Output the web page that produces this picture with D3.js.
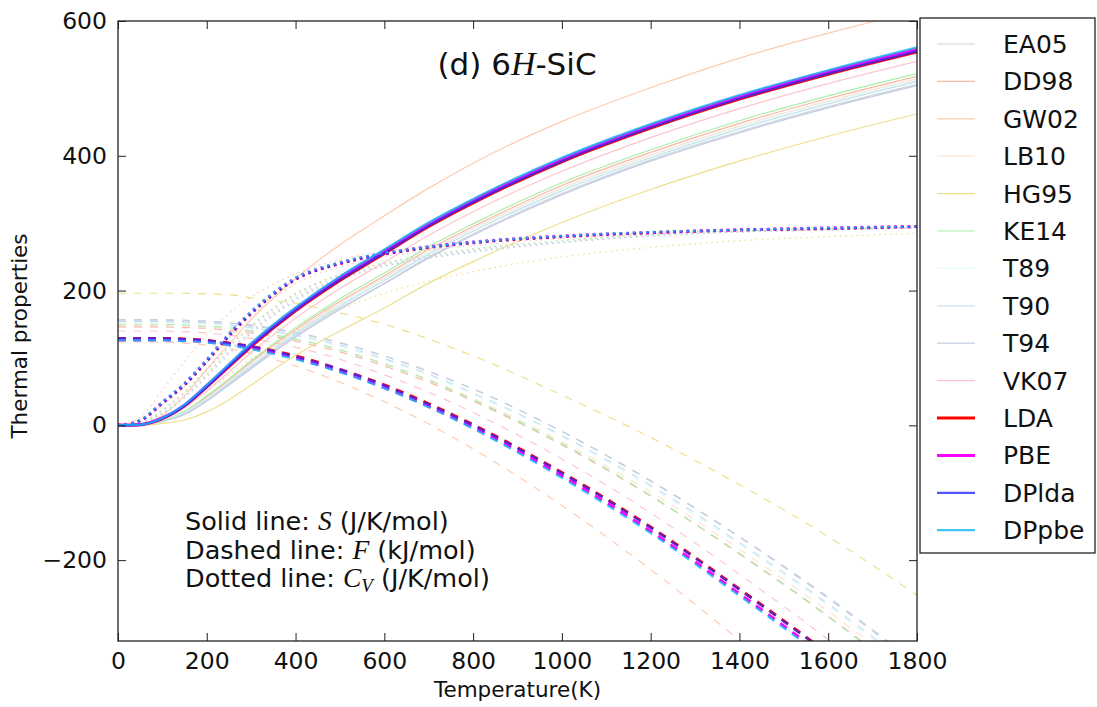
<!DOCTYPE html>
<html><head><meta charset="utf-8">
<script src="https://cdn.jsdelivr.net/npm/d3@7"></script>
<style>
body{margin:0;background:#fff;}
svg{display:block;font-family:"DejaVu Sans",sans-serif;}
</style></head><body>
<svg id="c" width="1097" height="707"></svg>
<script>
// ---------- data ----------
const temps = [0,50,100,150,200,250,300,400,500,600,700,800,1000,1200,1400,1600,1800];
const xTicks = [0,200,400,600,800,1000,1200,1400,1600,1800];
const yTicks = [-200,0,200,400,600];
const seriesNames = ["EA05","DD98","GW02","LB10","HG95","KE14","T89","T90","T94","VK07","LDA","PBE","DPlda","DPpbe"];
const seriesColors = ["#cdd3dc","#f7b6a6","#fbcdb2","#fde2d1","#efdf8c","#a9eea9","#e2fafa","#c3e2ee","#c4cde2","#fcc6cf","#ff0000","#ff00ff","#2a2aff","#10b8f0"];

// Entropy S (J/K/mol) — solid
const EA05_S = [0,1,6,17,37,61,86,133,174,211,250,284,344,394,436,473,506];
const DD98_S = [0,1,7,20,42,67,94,142,184,222,261,295,356,405,448,485,518];
const GW02_S = [0,2,15,44,83,121,157,218,268,311,352,389,451,501,545,582,615];
const LB10_S = [0,1,7,19,40,65,91,139,181,219,257,292,352,401,444,481,514];
const HG95_S = [0,0,3,8,20,38,60,104,140,174,211,243,301,350,392,429,462];
const KE14_S = [0,1,7,21,44,69,96,145,188,226,265,299,360,409,452,489,522];
const T89_S  = [0,1,7,19,39,64,90,137,179,217,256,290,350,399,442,479,512];
const T90_S  = [0,1,6,18,38,63,88,136,177,215,254,288,348,397,440,477,510];
const T94_S  = [0,1,6,16,36,60,84,131,172,210,248,282,342,392,434,471,504];
const VK07_S = [0,1,9,26,51,79,108,159,203,242,282,317,377,427,470,507,540];
const LDA_S  = [0,1,10,29,57,87,117,170,215,255,295,330,391,441,484,521,554];
const PBE_S  = [0,1,11,30,59,89,120,173,219,259,299,334,395,445,488,525,558];
const DPlda_S= [0,1,10,29,57,88,118,171,216,256,296,331,392,442,485,522,555];
const DPpbe_S= [0,1,11,31,60,91,122,175,221,261,301,336,397,447,490,527,561];

// Free energy F (kJ/mol) — dashed
const EA05_F = [157,157,157,156,155,152,149,138,123,103,80,54,-9,-83,-166,-257,-355];
const DD98_F = [146,146,146,145,144,141,137,125,109,88,64,36,-29,-105,-190,-283,-384];
const GW02_F = [124,124,124,122,119,114,107,88,64,35,2,-35,-119,-214,-319,-431,-552];
const LB10_F = [148,148,148,147,146,143,139,128,112,92,68,40,-24,-99,-184,-276,-376];
const HG95_F = [196,196,196,196,195,194,189,181,167,150,128,103,45,-18,-88,-165,-252];
const KE14_F = [150,150,150,149,147,145,140,128,112,91,67,38,-27,-104,-191,-284,-386];
const T89_F  = [153,153,153,152,151,148,144,133,117,97,74,46,-17,-92,-177,-268,-368];
const T90_F  = [154,154,154,153,152,149,145,134,119,99,76,48,-15,-89,-174,-265,-364];
const T94_F  = [156,156,156,155,154,152,148,137,122,103,80,54,-9,-82,-165,-255,-353];
const VK07_F = [140,140,140,139,137,134,129,116,98,75,49,19,-50,-130,-221,-318,-423];
const LDA_F  = [129,129,129,128,126,122,117,103,83,60,32,1,-70,-151,-243,-339,-445];
const PBE_F  = [127,127,127,126,124,120,115,100,80,56,28,-3,-75,-157,-250,-347,-454];
const DPlda_F= [129,129,129,128,126,122,117,102,83,59,31,0,-71,-152,-244,-340,-447];
const DPpbe_F= [126,126,126,125,123,119,113,98,79,55,27,-5,-78,-160,-253,-350,-457];

// Heat capacity Cv (J/K/mol) — dotted
const EA05_Cv = [0,3,18,42,74,108,138,187,218,237,249,258,272,281,287,290,293];
const DD98_Cv = [0,4,22,48,82,116,146,194,223,240,252,261,274,283,288,291,294];
const GW02_Cv = [0,12,52,95,135,166,190,225,246,258,266,272,280,286,290,292,294];
const LB10_Cv = [0,3,20,45,78,112,142,191,221,239,251,260,273,282,288,291,293];
const HG95_Cv = [0,1,12,28,50,75,98,140,172,196,214,228,250,264,274,280,285];
const KE14_Cv = [0,4,23,50,84,118,148,196,224,241,253,262,274,283,288,291,294];
const T89_Cv  = [0,3,19,44,77,111,141,190,220,238,250,259,273,282,287,290,293];
const T90_Cv  = [0,3,19,43,76,110,140,189,219,238,250,259,272,282,287,290,293];
const T94_Cv  = [0,3,17,41,72,106,136,185,216,236,248,257,271,281,287,290,293];
const VK07_Cv = [0,6,30,58,93,130,161,210,235,250,260,267,277,284,289,292,294];
const LDA_Cv  = [0,7,33,60,95,133,166,217,240,254,264,271,280,286,290,292,295];
const PBE_Cv  = [0,7,34,62,97,135,168,218,241,255,265,272,281,286,290,293,295];
const DPlda_Cv= [0,7,33,60,95,133,166,216,240,254,264,271,280,286,290,292,295];
const DPpbe_Cv= [0,8,35,63,98,136,169,219,242,256,265,272,281,287,290,293,295];

const S_all  = [EA05_S,DD98_S,GW02_S,LB10_S,HG95_S,KE14_S,T89_S,T90_S,T94_S,VK07_S,LDA_S,PBE_S,DPlda_S,DPpbe_S];
const F_all  = [EA05_F,DD98_F,GW02_F,LB10_F,HG95_F,KE14_F,T89_F,T90_F,T94_F,VK07_F,LDA_F,PBE_F,DPlda_F,DPpbe_F];
const Cv_all = [EA05_Cv,DD98_Cv,GW02_Cv,LB10_Cv,HG95_Cv,KE14_Cv,T89_Cv,T90_Cv,T94_Cv,VK07_Cv,LDA_Cv,PBE_Cv,DPlda_Cv,DPpbe_Cv];

// ---------- drawing ----------
const L = 118, R = 917, TOP = 21, B = 641;
const svg = d3.select("#c");
const x = d3.scaleLinear().domain([0,1800]).range([L,R]);
const y = d3.scaleLinear().domain([-320,600]).range([B,TOP]);

svg.append("defs").append("clipPath").attr("id","clip")
  .append("rect").attr("x",L).attr("y",TOP).attr("width",R-L).attr("height",B-TOP);

const line = d3.line().x(d=>x(d[0])).y(d=>y(d[1])).curve(d3.curveMonotoneX);
const g = svg.append("g").attr("clip-path","url(#clip)");

function widthOf(i){ return i===10||i===11 ? 3 : (i>=12 ? 2.2 : 1.2); }
function opacityOf(i){ return i>=12 ? 0.8 : 1; }

seriesNames.forEach((name,i)=>{
  [["S",S_all[i]],["F",F_all[i]],["Cv",Cv_all[i]]].forEach(([k,vals])=>{
    const p = g.append("path")
      .datum(temps.map((t,j)=>[t,vals[j]]))
      .attr("d",line)
      .attr("fill","none")
      .attr("stroke",seriesColors[i])
      .attr("stroke-width",widthOf(i))
      .attr("stroke-opacity",opacityOf(i));
    if(k==="F") p.attr("stroke-dasharray", i>=10 ? "8,7" : "8,8");
    if(k==="Cv") p.attr("stroke-dasharray", i>=10 ? "2.5,4.2" : "1.6,4");
  });
});

// frame
svg.append("rect").attr("x",L).attr("y",TOP).attr("width",R-L).attr("height",B-TOP)
  .attr("fill","none").attr("stroke","#222").attr("stroke-width",1.3);

// axes (ticks inside)
const fmt = d=> d<0 ? "\u2212"+Math.abs(d) : ""+d;
const ax = svg.append("g").attr("transform",`translate(0,${B})`)
  .call(d3.axisBottom(x).tickValues(xTicks).tickSize(-8).tickPadding(9).tickFormat(fmt));
const axT = svg.append("g").attr("transform",`translate(0,${TOP})`)
  .call(d3.axisTop(x).tickValues(xTicks).tickSize(-8).tickFormat(""));
const ay = svg.append("g").attr("transform",`translate(${L},0)`)
  .call(d3.axisLeft(y).tickValues(yTicks).tickSize(-8).tickPadding(11).tickFormat(fmt));
const ayR = svg.append("g").attr("transform",`translate(${R},0)`)
  .call(d3.axisRight(y).tickValues(yTicks).tickSize(-8).tickFormat(""));
[ax,axT,ay,ayR].forEach(a=>{
  a.select(".domain").remove();
  a.selectAll("line").attr("stroke","#222").attr("stroke-width",1);
  a.selectAll("text").attr("font-family","DejaVu Sans").attr("font-size",23.5).attr("fill","#111");
});
ax.selectAll("text").attr("dy","0.8em");

// axis labels
svg.append("text").attr("x",(L+R)/2).attr("y",697).attr("text-anchor","middle")
  .attr("font-size",21.5).attr("fill","#111").text("Temperature(K)");
svg.append("text").attr("transform","translate(27,336) rotate(-90)").attr("text-anchor","middle")
  .attr("font-size",21.5).attr("fill","#111").text("Thermal properties");

// title
const tt = svg.append("text").attr("x",517).attr("y",75).attr("text-anchor","middle")
  .attr("font-size",31).attr("fill","#111");
tt.append("tspan").text("(d) 6");
tt.append("tspan").attr("font-family","Liberation Serif").attr("font-style","italic").attr("font-size",34).text("H");
tt.append("tspan").text("-SiC");

// annotation
const notes = [["Solid line: ","S"," (J/K/mol)"],["Dashed line: ","F"," (kJ/mol)"],["Dotted line: ","C","V"," (J/K/mol)"]];
notes.forEach((n,i)=>{
  const t = svg.append("text").attr("x",185).attr("y",530+i*28.5).attr("font-size",25.5).attr("fill","#111");
  t.append("tspan").text(n[0]);
  t.append("tspan").attr("font-family","Liberation Serif").attr("font-style","italic").attr("font-size",27.5).text(n[1]);
  if(n.length===4){
    t.append("tspan").attr("font-family","Liberation Serif").attr("font-style","italic").attr("font-size",19).attr("dy",5).text(n[2]);
    t.append("tspan").attr("dy",-5).text(n[3]);
  } else {
    t.append("tspan").text(n[2]);
  }
});

// legend
const lg = svg.append("g");
lg.append("rect").attr("x",920).attr("y",18).attr("width",175).attr("height",535)
  .attr("fill","#fff").attr("stroke","#222").attr("stroke-width",1.3);
seriesNames.forEach((name,i)=>{
  const yy = 44 + i*37.4;
  lg.append("line").attr("x1",937).attr("x2",975).attr("y1",yy).attr("y2",yy)
    .attr("stroke",seriesColors[i]).attr("stroke-width",widthOf(i)).attr("stroke-opacity",opacityOf(i));
  lg.append("text").attr("x",1003).attr("y",yy).attr("dy","0.36em")
    .attr("font-size",25).attr("fill","#111").text(name);
});
</script>
</body></html>
